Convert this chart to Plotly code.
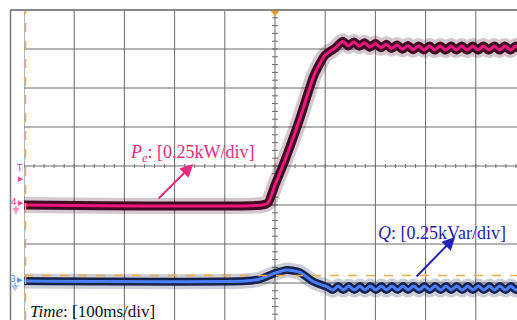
import plotly.graph_objects as go

# ---------------- data (time in ms, 100 ms/div) ----------------
pe_t = [0, 474, 486, 500, 520, 550, 578, 600, 620, 635,
        646, 657, 668, 678, 689, 700, 711, 722, 732, 743, 754, 765, 775, 786,
        797, 808, 818, 829, 840, 851, 861, 872, 883, 894, 904, 915, 926, 937,
        947, 958, 969, 980, 990]
pe_kw = [0.0, 0.0, 0.013, 0.128, 0.288, 0.558, 0.833, 0.962, 1.006, 1.05,
         1.02, 1.045, 1.018, 1.04, 1.012, 1.035, 1.008, 1.03, 1.003, 1.026, 0.998, 1.022, 0.995, 1.02,
         0.994, 1.019, 0.993, 1.019, 0.993, 1.019, 0.993, 1.019, 0.993, 1.019, 0.993, 1.019, 0.993, 1.019,
         0.993, 1.019, 0.993, 1.019, 0.993]

q_t = [0, 440, 470, 500, 524, 550, 576, 604,
       615, 626, 636, 647, 658, 669, 679, 690, 701, 712, 722, 733, 744, 755, 765, 776,
       787, 798, 808, 819, 830, 841, 851, 862, 873, 884, 894, 905, 916, 927, 937, 948,
       959, 970, 980, 990]
q_kvar = [0.0, 0.0, 0.013, 0.051, 0.071, 0.055, -0.003, -0.038,
          -0.058, -0.032, -0.058, -0.032, -0.058, -0.032, -0.058, -0.032, -0.058, -0.032, -0.058, -0.032,
          -0.058, -0.032, -0.058, -0.032, -0.058, -0.032, -0.058, -0.032, -0.058, -0.032, -0.058, -0.032,
          -0.058, -0.032, -0.058, -0.032, -0.058, -0.032, -0.058, -0.032, -0.058, -0.032, -0.058, -0.032]

pe_scale = 0.25   # kW/div
q_scale = 0.25    # kVar/div
pe_offset = 3.0   # channel 4 ground level (div)
q_offset = 1.05   # channel 3 ground level (div)
ref_level = 1.19  # orange reference cursor (div)

pe_y = [pe_offset + v / pe_scale for v in pe_kw]
q_y = [q_offset + v / q_scale for v in q_kvar]

# ---------------- figure ----------------
W, H = 517, 320
ML, MT = 24, 10
X_MAX = 982.1
Y_MIN, Y_MAX = 0.0513, 8.0

PINK = "#f0167c"
PINK_DARK = "#3e0a24"
BLUE = "#4a80ff"
BLUE_DARK = "#17224c"
GRID = "#6a6a6a"
ORANGE = "#f7ac4a"

fig = go.Figure()

# noise envelopes + signal lines
fig.add_trace(go.Scatter(x=pe_t, y=pe_y, mode="lines", line=dict(color=PINK_DARK, width=16, shape="spline", smoothing=0.6),
                         opacity=0.22, hoverinfo="skip", showlegend=False))
fig.add_trace(go.Scatter(x=q_t, y=q_y, mode="lines", line=dict(color=BLUE_DARK, width=15, shape="spline", smoothing=0.6),
                         opacity=0.22, hoverinfo="skip", showlegend=False))
fig.add_trace(go.Scatter(x=pe_t, y=pe_y, mode="lines", line=dict(color=PINK_DARK, width=9, shape="spline", smoothing=0.6),
                         hoverinfo="skip", showlegend=False))
fig.add_trace(go.Scatter(x=q_t, y=q_y, mode="lines", line=dict(color=BLUE_DARK, width=8, shape="spline", smoothing=0.6),
                         hoverinfo="skip", showlegend=False))
fig.add_trace(go.Scatter(x=pe_t, y=pe_y, mode="lines", line=dict(color=PINK, width=3, shape="spline", smoothing=0.6),
                         name="Pe", showlegend=False))
fig.add_trace(go.Scatter(x=q_t, y=q_y, mode="lines", line=dict(color=BLUE, width=3, shape="spline", smoothing=0.6),
                         name="Q", showlegend=False))

# trigger marker at top
fig.add_trace(go.Scatter(x=[500], y=[7.95], mode="markers", cliponaxis=False,
                         marker=dict(symbol="triangle-down", size=9, color="#f59a1a"),
                         hoverinfo="skip", showlegend=False))

shapes = []
# graticule
for i in range(0, 10):
    shapes.append(dict(type="line", xref="x", yref="y", x0=i * 100, x1=i * 100, y0=Y_MIN, y1=Y_MAX,
                       line=dict(color=GRID, width=1), layer="below"))
for j in range(1, 9):
    shapes.append(dict(type="line", xref="x", yref="y", x0=0, x1=X_MAX, y0=j, y1=j,
                       line=dict(color=GRID, width=1), layer="below"))
# center minor ticks
for k in range(0, 41):
    yk = k * 0.2
    if Y_MIN <= yk <= Y_MAX:
        shapes.append(dict(type="line", xref="x", yref="y", x0=494, x1=506, y0=yk, y1=yk,
                           line=dict(color=GRID, width=1), layer="below"))
for k in range(0, 50):
    xk = k * 20
    shapes.append(dict(type="line", xref="x", yref="y", x0=xk, x1=xk, y0=3.95, y1=4.05,
                       line=dict(color=GRID, width=1), layer="below"))
# orange cursors
shapes.append(dict(type="line", xref="x", yref="y", x0=3, x1=3, y0=Y_MIN, y1=Y_MAX,
                   line=dict(color=ORANGE, width=1.5, dash="dash")))
shapes.append(dict(type="line", xref="x", yref="y", x0=0, x1=X_MAX, y0=ref_level, y1=ref_level,
                   line=dict(color=ORANGE, width=1.5, dash="dash")))
# outer frame
def px(xp):
    return (xp - ML) / (W - ML)
def py(yp):
    return (H - yp) / (H - MT)
shapes.append(dict(type="line", xref="paper", yref="paper", x0=px(10.5), x1=px(10.5), y0=py(10), y1=py(320),
                   line=dict(color="#7a7a7a", width=1.5)))
shapes.append(dict(type="line", xref="paper", yref="paper", x0=px(10), x1=px(517), y0=py(10), y1=py(10),
                   line=dict(color="#888888", width=2)))
# ground symbols for channels
for (gx, gy, col) in [(16, 206, "#ff3d9a"), (15, 283, "#4a90ff")]:
    shapes.append(dict(type="line", xref="paper", yref="paper", x0=px(gx), x1=px(gx), y0=py(gy), y1=py(gy + 3),
                       line=dict(color=col, width=1)))
    shapes.append(dict(type="line", xref="paper", yref="paper", x0=px(gx - 3.5), x1=px(gx + 3.5), y0=py(gy + 3), y1=py(gy + 3),
                       line=dict(color=col, width=1)))
    shapes.append(dict(type="line", xref="paper", yref="paper", x0=px(gx - 2), x1=px(gx + 2), y0=py(gy + 5), y1=py(gy + 5),
                       line=dict(color=col, width=1)))
    shapes.append(dict(type="line", xref="paper", yref="paper", x0=px(gx - 0.8), x1=px(gx + 0.8), y0=py(gy + 7), y1=py(gy + 7),
                       line=dict(color=col, width=1)))

SERIF = "Liberation Serif, Times New Roman, serif"
annotations = [
    dict(x=336, y=4.33, xref="x", yref="y", text="<i>P</i><sub><i>e</i></sub>: [0.25kW/div]", showarrow=False,
         font=dict(family=SERIF, size=18, color="#ee2a80"), xanchor="center", yanchor="middle"),
    dict(x=833, y=2.28, xref="x", yref="y", text="<i>Q</i>: [0.25kVar/div]", showarrow=False,
         font=dict(family=SERIF, size=18, color="#2323b0"), xanchor="center", yanchor="middle"),
    dict(x=136, y=0.27, xref="x", yref="y", text="<i>Time</i>: [100ms/div]", showarrow=False,
         font=dict(family=SERIF, size=17, color="#111111"), xanchor="center", yanchor="middle"),
    # arrows
    dict(x=337, y=4.05, ax=265, ay=3.13, xref="x", yref="y", axref="x", ayref="y", text="",
         showarrow=True, arrowhead=2, arrowsize=1.3, arrowwidth=2, arrowcolor="#ee2a80"),
    dict(x=859, y=2.18, ax=779, ay=1.13, xref="x", yref="y", axref="x", ayref="y", text="",
         showarrow=True, arrowhead=2, arrowsize=1.3, arrowwidth=2, arrowcolor="#2323b0"),
    # channel markers on the left
    dict(x=px(19), y=py(168.5), xref="paper", yref="paper", text="T", showarrow=False,
         font=dict(family="DejaVu Sans", size=9, color="#ff3d9a"), xanchor="center", yanchor="middle"),
    dict(x=px(21), y=py(179), xref="paper", yref="paper", text="▶", showarrow=False,
         font=dict(family="DejaVu Sans", size=7, color="#ff3d9a"), xanchor="center", yanchor="middle"),
    dict(x=px(13.5), y=py(202), xref="paper", yref="paper", text="4", showarrow=False,
         font=dict(family="DejaVu Sans", size=9, color="#ff3d9a"), xanchor="center", yanchor="middle"),
    dict(x=px(20.5), y=py(203), xref="paper", yref="paper", text="▶", showarrow=False,
         font=dict(family="DejaVu Sans", size=7, color="#ff3d9a"), xanchor="center", yanchor="middle"),
    dict(x=px(12.5), y=py(279), xref="paper", yref="paper", text="3", showarrow=False,
         font=dict(family="DejaVu Sans", size=9, color="#4a90ff"), xanchor="center", yanchor="middle"),
    dict(x=px(20), y=py(280), xref="paper", yref="paper", text="▶", showarrow=False,
         font=dict(family="DejaVu Sans", size=7, color="#4a90ff"), xanchor="center", yanchor="middle"),
]

fig.update_layout(
    width=W, height=H,
    margin=dict(l=ML, r=0, t=MT, b=0, pad=0),
    paper_bgcolor="white", plot_bgcolor="white",
    xaxis=dict(range=[0, X_MAX], visible=False, fixedrange=True),
    yaxis=dict(range=[Y_MIN, Y_MAX], visible=False, fixedrange=True),
    shapes=shapes, annotations=annotations, showlegend=False,
)

fig.write_html("out.html")
